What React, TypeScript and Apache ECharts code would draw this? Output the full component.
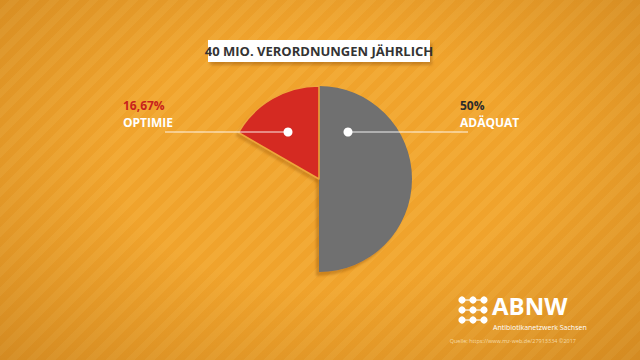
import React, { useEffect, useRef } from "react";
import * as echarts from "echarts";

const title = "40 MIO. VERORDNUNGEN JÄHRLICH";
const categories = ["ADÄQUAT", "OPTIMIE"];
const shares = [50, 16.67];
const sliceColors = ["#6F6F6F", "#D52A22"];
const labelColors = ["#2B2B2B", "#C8221C"];
const logoName = "ABNW";
const logoSub = "Antibiotikanetzwerk Sachsen";
const source = "Quelle: https://www.mz-web.de/27913334 ©2017";

const FONT = "'Open Sans', 'Noto Sans', sans-serif";

function fmt(v: number) {
  return String(v).replace(".", ",") + "%";
}

export default function App() {
  const ref = useRef<HTMLDivElement>(null);
  useEffect(() => {
    if (!ref.current) return;
    const chart = echarts.init(ref.current, undefined, { renderer: "svg" });
    const rest = 100 - shares.reduce((a, b) => a + b, 0);
    const cx = 319;
    const cy = 179;
    const r = 93;

    const dotY = 132;
    const graphics: any[] = [];
    graphics.push({
      type: "rect",
      shape: { x: 208, y: 40, width: 222, height: 22 },
      style: {
        fill: "#FFFFFF",
        shadowBlur: 3,
        shadowOffsetX: 2,
        shadowOffsetY: 3,
        shadowColor: "rgba(120,60,0,0.35)",
      },
      z: 10,
    });
    graphics.push({
      type: "text",
      x: 319,
      y: 51,
      style: {
        text: title,
        fill: "#333333",
        font: `bold 13px ${FONT}`,
        align: "center",
        verticalAlign: "middle",
      },
      z: 11,
    });
    graphics.push({
      type: "line",
      shape: { x1: cx + 29, y1: dotY, x2: 468, y2: dotY },
      style: { stroke: "rgba(255,255,255,0.9)", lineWidth: 1.2 },
      z: 20,
    });
    graphics.push({
      type: "circle",
      shape: { cx: cx + 29, cy: dotY, r: 4.5 },
      style: { fill: "#FFFFFF" },
      z: 21,
    });
    graphics.push({
      type: "text",
      x: 460,
      y: 105,
      style: {
        text: fmt(shares[0]),
        fill: labelColors[0],
        font: `bold 12px ${FONT}`,
        verticalAlign: "middle",
      },
      z: 20,
    });
    graphics.push({
      type: "text",
      x: 460,
      y: 122,
      style: {
        text: categories[0],
        fill: "#FFFFFF",
        font: `bold 12px ${FONT}`,
        verticalAlign: "middle",
      },
      z: 20,
    });
    graphics.push({
      type: "line",
      shape: { x1: 165, y1: dotY, x2: cx - 31, y2: dotY },
      style: { stroke: "rgba(255,255,255,0.9)", lineWidth: 1.2 },
      z: 20,
    });
    graphics.push({
      type: "circle",
      shape: { cx: cx - 31, cy: dotY, r: 4.5 },
      style: { fill: "#FFFFFF" },
      z: 21,
    });
    graphics.push({
      type: "text",
      x: 123,
      y: 105,
      style: {
        text: fmt(shares[1]),
        fill: labelColors[1],
        font: `bold 12px ${FONT}`,
        verticalAlign: "middle",
      },
      z: 20,
    });
    graphics.push({
      type: "text",
      x: 123,
      y: 122,
      style: {
        text: categories[1],
        fill: "#FFFFFF",
        font: `bold 12px ${FONT}`,
        verticalAlign: "middle",
      },
      z: 20,
    });
    const dxs = [462, 473, 484];
    const dys = [300, 310, 320];
    dys.forEach((yy) => {
      graphics.push({
        type: "line",
        shape: { x1: dxs[0], y1: yy, x2: dxs[2], y2: yy },
        style: { stroke: "#FFFFFF", lineWidth: 1.2 },
        z: 20,
      });
      dxs.forEach((xx) => {
        graphics.push({
          type: "circle",
          shape: { cx: xx, cy: yy, r: 3.6 },
          style: { fill: "#FFFFFF" },
          z: 21,
        });
      });
    });
    graphics.push({
      type: "text",
      x: 492,
      y: 305,
      style: {
        text: logoName,
        fill: "#FFFFFF",
        font: `bold 24px ${FONT}`,
        lineHeight: 22,
        verticalAlign: "middle",
      },
      z: 20,
    });
    graphics.push({
      type: "text",
      x: 493,
      y: 327,
      style: {
        text: logoSub,
        fill: "#FFFFFF",
        font: `7px ${FONT}`,
        lineHeight: 7,
        verticalAlign: "middle",
      },
      z: 20,
    });
    graphics.push({
      type: "text",
      x: 576,
      y: 341,
      style: {
        text: source,
        fill: "rgba(255,240,210,0.75)",
        font: `5.5px ${FONT}`,
        lineHeight: 6,
        align: "right",
        verticalAlign: "middle",
      },
      z: 20,
    });

    chart.setOption({
      animation: false,
      backgroundColor: "transparent",
      graphic: graphics,
      series: [
        {
          type: "pie",
          center: [cx, cy],
          radius: [0, r],
          startAngle: 90,
          clockwise: true,
          silent: true,
          label: { show: false },
          labelLine: { show: false },
          emphasis: { disabled: true },
          data: [
            {
              name: categories[0],
              value: shares[0],
              itemStyle: {
                color: sliceColors[0],
                shadowBlur: 2,
                shadowOffsetX: -3,
                shadowOffsetY: 4,
                shadowColor: "rgba(140,70,0,0.35)",
              },
            },
            {
              name: "",
              value: rest,
              itemStyle: { color: "rgba(0,0,0,0)" },
            },
            {
              name: categories[1],
              value: shares[1],
              itemStyle: {
                color: sliceColors[1],
                borderColor: "#EFA63A",
                borderWidth: 1.5,
                shadowBlur: 2,
                shadowOffsetX: -2,
                shadowOffsetY: 3,
                shadowColor: "rgba(140,70,0,0.3)",
              },
            },
          ],
        },
      ],
    });
    return () => chart.dispose();
  }, []);

  return (
    <div
      style={{
        position: "absolute",
        left: 0,
        top: 0,
        width: 640,
        height: 360,
        overflow: "hidden",
        background:
          "radial-gradient(ellipse at 50% 45%, rgba(0,0,0,0) 45%, rgba(120,60,0,0.24) 100%), repeating-linear-gradient(135deg, #F0A32C 0px, #F0A32C 7px, #F2AA36 7px, #F2AA36 14px)",
      }}
    >
      <div ref={ref} style={{ width: 640, height: 360 }} />
    </div>
  );
}
